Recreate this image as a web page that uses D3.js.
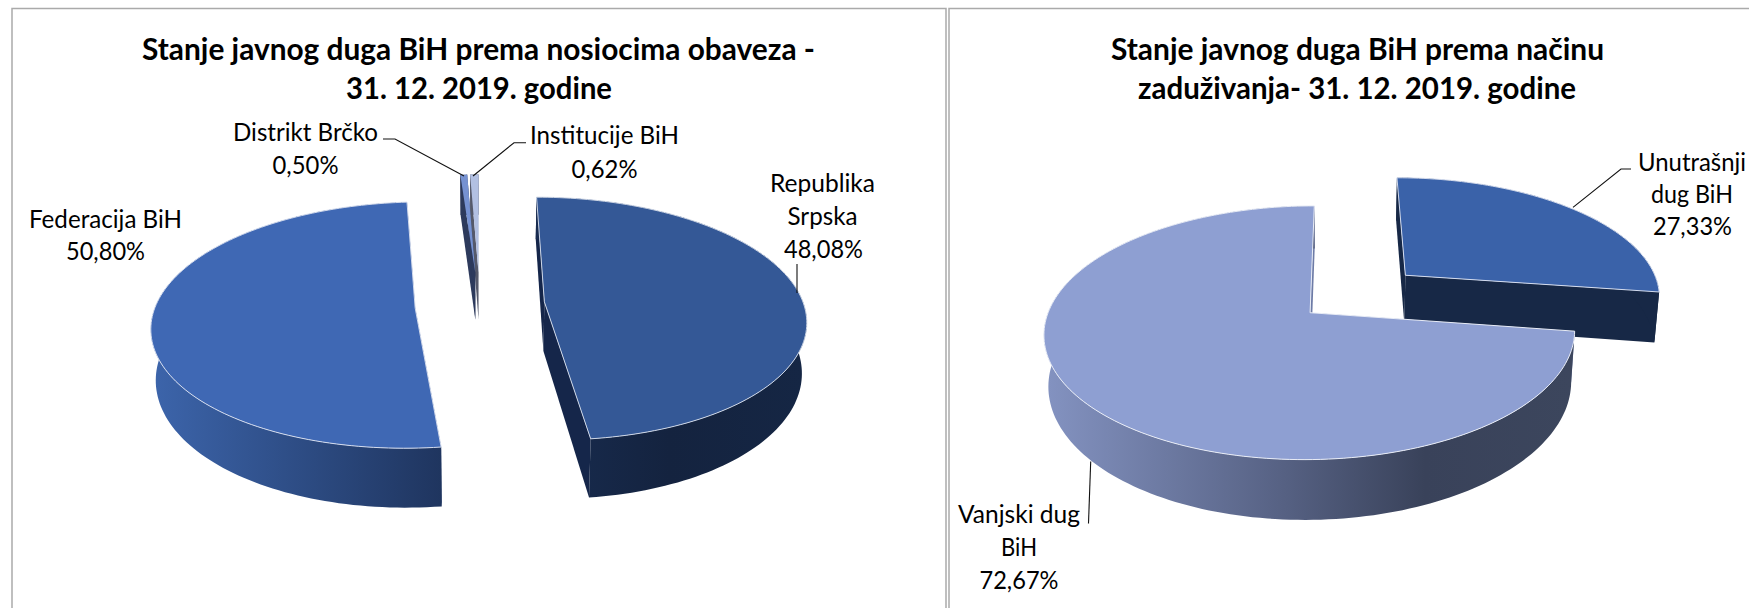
<!DOCTYPE html>
<html><head><meta charset="utf-8">
<script src="https://cdn.jsdelivr.net/npm/d3@7/dist/d3.min.js"></script>
<style>html,body{margin:0;padding:0;background:#fff;overflow:hidden}svg{display:block}text{font-family:Lato,"Open Sans",sans-serif;fill:#000}</style>
</head><body><svg id="c" width="1749" height="608"></svg>
<script>
// ---- data ----
const holderNames = ["Republika Srpska", "Federacija BiH", "Distrikt Brčko", "Institucije BiH"];
const holderValues = [48.08, 50.80, 0.50, 0.62];
const methodNames = ["Unutrašnji dug BiH", "Vanjski dug BiH"];
const methodValues = [27.33, 72.67];
const holderTitle = ["Stanje javnog duga BiH prema nosiocima obaveza -", "31. 12. 2019. godine"];
const methodTitle = ["Stanje javnog duga BiH prema načinu", "zaduživanja- 31. 12. 2019. godine"];

// ---- layout / style ----
const svg = d3.select("#c");
const defs = svg.append("defs");
const pct = d3.formatLocale({decimal:",",thousands:".",grouping:[3],currency:["",""]}).format(".2f");

svg.append("path").attr("d","M12,620V8.5H946V620").attr("fill","none").attr("stroke","#aaa").attr("stroke-width",1.5);
svg.append("path").attr("d","M949,620V8.5H1760").attr("fill","none").attr("stroke","#aaa").attr("stroke-width",1.5);

function drawPie(cfg, values){
  const {X0,Y0,Rx,Ry,p,shrink,slices,order,d0,dk} = cfg;
  const arcs = d3.pie().sort(null)(values);
  const g = svg.append("g");
  const line = d3.line();
  const top = (u,v)=>{const w=1/(1-p*v);return [X0+Rx*u*w, Y0+Ry*v*w];};
  order.forEach(i=>{
    const a=arcs[i], s=slices[i];
    const low = ([x,y])=>[X0+(x-X0)*shrink, y+d0+(s.dd||0)+dk*(y-Y0)];
    const n=Math.max(4,Math.ceil((a.endAngle-a.startAngle)*40));
    const thetas=d3.range(n+1).map(k=>a.startAngle+(a.endAngle-a.startAngle)*k/n);
    const rim=thetas.map(t=>top(s.u+Math.sin(t),s.v-Math.cos(t)));
    const apex=top(s.u,s.v);
    const rimL=rim.map(low), apexL=low(apex);
    // radial faces
    [[0,rim[0],rimL[0]],[1,rim[n],rimL[n]]].forEach(([_,q,qL])=>{
      g.append("path").attr("d",line([apex,q,qL,apexL])+"Z").attr("fill",s.face);
    });
    // outer wall
    let wallFill=s.wall;
    if(Array.isArray(s.wall)){
      const id="grad"+cfg.id+i;
      const gr=defs.append("linearGradient").attr("id",id).attr("gradientUnits","userSpaceOnUse")
        .attr("x1",d3.min(rimL,q=>q[0])).attr("x2",d3.max(rimL,q=>q[0])).attr("y1",0).attr("y2",0);
      s.wall.forEach(([o,c])=>gr.append("stop").attr("offset",o).attr("stop-color",c));
      wallFill=`url(#${id})`;
    }
    g.append("path").attr("d",line(rim.concat(rimL.slice().reverse()))+"Z").attr("fill",wallFill);
    // top face
    g.append("path").attr("d",line([apex].concat(rim))+"Z").attr("fill",s.top)
      .attr("stroke",s.edge||"none").attr("stroke-width",1).attr("stroke-linejoin","round");
  });
}

drawPie({id:"a",X0:480,Y0:313.4,Rx:262,Ry:122.3,p:0.14,shrink:0.985,d0:50,dk:0.07,
  order:[3,2,0,1],
  slices:[
    {u:0.249,v:-0.096,top:"#345896",face:"#15264a",wall:[[0,"#182c50"],[0.5,"#14233f"],[1,"#152644"]],edge:"#cdd6e6"},
    {u:-0.249,v:-0.045,top:"#3f68b4",face:"#1f3661",wall:[[0,"#3c64aa"],[1,"#1f355f"]],edge:"#d4dcee"},
    {u:-0.019,v:-0.35,top:"#7692d2",face:"#2d3a5c",wall:"#2d3a5c"},
    {u:-0.006,v:-0.35,top:"#b2c0e2",face:"#55596a",wall:"#55596a"}
  ]}, holderValues);

drawPie({id:"b",X0:1341,Y0:312.7,Rx:262,Ry:123.7,p:0.158,shrink:0.985,d0:50,dk:0.07,
  order:[0,1],
  slices:[
    {u:0.258,v:-0.318,dd:2,top:"#3a62a9",face:"#172846",wall:"#172846",edge:"#d4dcee"},
    {u:-0.118,v:0,top:"#8e9fd2",face:"#6d7ba6",wall:[[0,"#8392c0"],[0.45,"#566183"],[0.72,"#39425a"],[1,"#3c465d"]],edge:"#e8ecf6"}
  ]}, methodValues);

// titles
const titleRows=[
 {t:holderTitle[0],x:478.5,y:50,w:673},{t:holderTitle[1],x:479,y:89,w:266},
 {t:methodTitle[0],x:1357.5,y:50,w:493},{t:methodTitle[1],x:1357,y:89,w:438}
];
svg.selectAll("text.t").data(titleRows).join("text").attr("class","t")
  .attr("x",d=>d.x).attr("y",d=>d.y).attr("dy","0.35em").attr("text-anchor","middle")
  .attr("font-size",29.5).attr("font-weight",700)
  .attr("textLength",d=>d.w).attr("lengthAdjust","spacingAndGlyphs").text(d=>d.t);

// labels
const labelRows=[
 {t:"Distrikt Brčko",x:305.5,y:132,w:145},{t:pct(holderValues[2])+"%",x:305.5,y:164.6,w:66},
 {t:"Institucije BiH",x:604.5,y:135.5,w:149},{t:pct(holderValues[3])+"%",x:604.5,y:169,w:66},
 {t:"Republika",x:822.5,y:183,w:105},{t:"Srpska",x:822.5,y:216,w:70},{t:pct(holderValues[0])+"%",x:823.5,y:248.8,w:79},
 {t:"Federacija BiH",x:105.5,y:219,w:153},{t:pct(holderValues[1])+"%",x:105.5,y:251,w:79},
 {t:"Unutrašnji",x:1692,y:162,w:108},{t:"dug BiH",x:1692,y:194,w:82},{t:pct(methodValues[0])+"%",x:1692.5,y:226.5,w:79},
 {t:"Vanjski dug",x:1019,y:514,w:122},{t:"BiH",x:1019,y:547,w:36},{t:pct(methodValues[1])+"%",x:1019,y:579.6,w:79}
];
svg.selectAll("text.l").data(labelRows).join("text").attr("class","l")
  .attr("x",d=>d.x).attr("y",d=>d.y).attr("dy","0.35em").attr("text-anchor","middle")
  .attr("font-size",25.5)
  .attr("textLength",d=>d.w).attr("lengthAdjust","spacingAndGlyphs").text(d=>d.t);

// leader lines
const leaders=[
 [[383,139],[395,139],[464,176]],
 [[526,142.7],[514,142.7],[473,176]],
 [[797,264],[797,293]],
 [[1631,169],[1621,169],[1573,207.4]],
 [[1088.5,523.5],[1090.7,461.4]]
];
svg.selectAll("path.ld").data(leaders).join("path").attr("class","ld")
  .attr("d",d3.line()).attr("fill","none").attr("stroke","#111").attr("stroke-width",1.1);
</script></body></html>
